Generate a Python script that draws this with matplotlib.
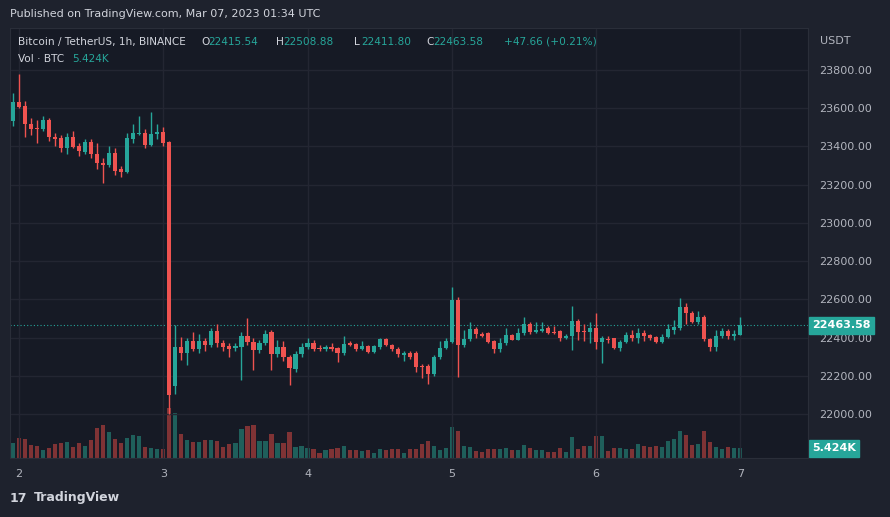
import matplotlib.pyplot as plt
import numpy as np

# Bitcoin / TetherUS 1h candles, Mar 2 - Mar 7 2023
opens = [23533, 23633, 23612, 23518, 23496, 23490, 23538, 23450, 23444, 23392, 23450, 23402, 23370, 23423, 23360, 23313,
         23303, 23365, 23282, 23266, 23440, 23465, 23470, 23408, 23465, 23475, 23423,
         22146, 22350, 22319, 22382, 22340, 22382, 22361, 22434, 22371, 22355, 22345, 22350, 22408, 22377, 22335, 22370,
         22429, 22314, 22350, 22300, 22235, 22314, 22350, 22370, 22345, 22338, 22350, 22345, 22320, 22370, 22365, 22340,
         22355, 22325, 22350, 22392, 22360, 22340, 22310, 22320, 22320, 22250, 22250, 22210, 22300, 22345,
         22377, 22596, 22361, 22392, 22445, 22420, 22424, 22382, 22340, 22370, 22413, 22390, 22424, 22471, 22430, 22435,
         22450, 22430, 22435, 22400, 22408, 22487, 22435, 22429, 22450, 22377, 22395, 22398, 22346, 22375, 22413, 22398,
         22424, 22413, 22405, 22375, 22405, 22440, 22450, 22560, 22528, 22481, 22508, 22392, 22350, 22410, 22435, 22410,
         22415.54]
closes = [23633, 23607, 23518, 23490, 23490, 23538, 23450, 23440, 23392, 23450, 23397, 23376, 23423, 23360, 23313, 23303,
          23365, 23271, 23266, 23444, 23470, 23470, 23408, 23465, 23475, 23418, 22100,
          22350, 22319, 22382, 22340, 22382, 22361, 22434, 22371, 22350, 22340, 22355, 22408, 22377, 22335, 22370, 22418,
          22314, 22350, 22300, 22240, 22314, 22350, 22370, 22340, 22340, 22350, 22340, 22320, 22365, 22362, 22340, 22355,
          22325, 22355, 22392, 22360, 22340, 22313, 22320, 22300, 22245, 22245, 22210, 22300, 22345, 22380,
          22596, 22361, 22392, 22445, 22419, 22410, 22377, 22340, 22370, 22413, 22390, 22424, 22471, 22430, 22440, 22445,
          22424, 22425, 22400, 22410, 22487, 22429, 22429, 22450, 22377, 22400, 22388, 22346, 22375, 22413, 22398, 22424,
          22408, 22400, 22375, 22405, 22445, 22455, 22560, 22528, 22481, 22508, 22392, 22350, 22410, 22435, 22410, 22420,
          22463.58]
highs = [23680, 23780, 23640, 23550, 23540, 23560, 23550, 23470, 23460, 23470, 23480, 23420, 23440, 23440, 23420, 23340,
         23400, 23390, 23300, 23470, 23520, 23560, 23490, 23580, 23520, 23500, 23430,
         22466, 22403, 22400, 22430, 22420, 22400, 22450, 22470, 22390, 22370, 22370, 22430, 22502, 22400, 22390, 22440,
         22440, 22390, 22380, 22310, 22330, 22370, 22400, 22390, 22360, 22360, 22370, 22350, 22410, 22380, 22370, 22380,
         22360, 22360, 22400, 22400, 22365, 22350, 22330, 22330, 22330, 22260, 22260, 22310, 22380, 22400,
         22664, 22610, 22440, 22480, 22455, 22430, 22430, 22390, 22400, 22450, 22420, 22450, 22510, 22480, 22480, 22480,
         22460, 22460, 22440, 22420, 22565, 22495, 22470, 22480, 22530, 22410, 22410, 22400, 22390, 22430, 22440, 22450,
         22440, 22420, 22410, 22420, 22470, 22490, 22607, 22580, 22540, 22540, 22520, 22400, 22440, 22450, 22445, 22440,
         22508.88]
lows = [23507, 23600, 23450, 23460, 23420, 23480, 23430, 23400, 23370, 23360, 23390, 23350, 23360, 23340, 23280, 23210,
        23290, 23250, 23240, 23260, 23420, 23460, 23390, 23400, 23440, 23400, 22000,
        22104, 22282, 22256, 22330, 22320, 22330, 22350, 22350, 22330, 22300, 22330, 22178, 22360, 22230, 22320, 22360,
        22230, 22300, 22280, 22152, 22220, 22300, 22340, 22330, 22330, 22330, 22330, 22270, 22310, 22355, 22330, 22335,
        22320, 22320, 22340, 22355, 22330, 22300, 22280, 22290, 22220, 22190, 22160, 22200, 22290, 22340,
        22370, 22193, 22350, 22380, 22400, 22405, 22370, 22320, 22325, 22360, 22385, 22385, 22415, 22420, 22425, 22430,
        22420, 22420, 22380, 22395, 22335, 22390, 22380, 22370, 22340, 22267, 22370, 22340, 22330, 22370, 22380, 22370,
        22380, 22390, 22370, 22370, 22400, 22420, 22440, 22470, 22475, 22470, 22380, 22330, 22330, 22400, 22395, 22385,
        22411.80]
volumes_k = [8.5, 11.4, 10.7, 7.3, 6.8, 4.3, 5.6, 7.7, 8.2, 8.8, 6.3, 8.5, 6.8, 10.2, 16.5, 18.4, 14.5, 10.7, 8.5,
             11.4, 13.1, 12.1, 6.3, 5.6, 4.8, 4.8, 28.1, 25.2,
             13.6, 9.9, 8.8, 8.8, 9.9, 10.2, 9.7, 6.0, 7.7, 8.2, 16.2, 17.9, 18.7, 9.4, 9.7, 13.3, 8.2, 8.2, 14.5, 6.3,
             6.8, 5.4, 4.8, 2.9, 4.3, 4.8, 5.6, 6.5, 4.6, 4.3, 3.7, 4.3, 3.1, 4.8, 4.6, 5.1, 5.1, 3.1, 4.8, 5.1, 7.7,
             9.4, 6.8, 4.3, 5.6,
             17.5, 15.0, 6.8, 6.3, 3.7, 3.4, 4.8, 4.8, 5.1, 5.4, 4.3, 4.3, 7.3, 5.4, 4.6, 4.6, 3.4, 3.4, 5.4, 3.4,
             11.6, 5.1, 6.8, 6.5, 12.4, 12.4, 3.7, 5.4, 5.4, 5.1, 5.1, 8.0, 6.5, 6.3, 6.8, 6.0, 9.4, 10.5, 15.0, 12.8,
             7.3, 7.7, 15.0, 9.0, 6.0, 5.1, 6.0, 5.4, 5.424]
day_labels = ['2', '3', '4', '5', '6', '7']
price_ticks = [22000, 22200, 22400, 22600, 22800, 23000, 23200, 23400, 23600, 23800]
last_price = 22463.58

UP, DOWN = '#26a69a', '#ef5350'
UP_VOL, DOWN_VOL = '#1f5f5b', '#7f3335'
BG, PANEL, GRID, TXT = '#1e222d', '#161a25', '#232632', '#b2b5be'

fig = plt.figure(figsize=(8.9, 5.17), dpi=100)
fig.patch.set_facecolor(BG)
ax = fig.add_axes([0.0112, 0.114, 0.897, 0.832])
ax.set_facecolor(PANEL)

n = len(closes)
hours = np.arange(n) - 1  # first candle at Mar 1 23:00
for i in range(n):
    o, c, h, l = opens[i], closes[i], highs[i], lows[i]
    col = UP if c >= o else DOWN
    ax.vlines(hours[i], l, h, color=col, lw=1, zorder=3)
    ax.bar(hours[i], max(abs(c - o), 3), bottom=min(o, c), width=0.7, color=col, zorder=4, linewidth=0)

ax.set_xlim(-1.5, 131.3)
ax.set_ylim(21770, 24020)
ax.set_xticks([24 * k for k in range(len(day_labels))])
ax.set_xticklabels(day_labels)
ax.grid(color=GRID, lw=1, zorder=0)
for s in ax.spines.values():
    s.set_color('#2a2e39')

# volume overlay
vax = ax.twinx()
vax.set_ylim(0, 240)
vax.set_yticks([])
for s in vax.spines.values():
    s.set_visible(False)
for i in range(n):
    col = UP_VOL if closes[i] >= opens[i] else DOWN_VOL
    vax.bar(hours[i], volumes_k[i], width=0.7, color=col, linewidth=0, zorder=2)
vax.set_xlim(-1.5, 131.3)
ax.set_zorder(vax.get_zorder() + 1)
ax.patch.set_visible(False)
vax.patch.set_visible(True)
vax.patch.set_facecolor(PANEL)

ax.yaxis.tick_right()
ax.set_yticks(price_ticks)
ax.set_yticklabels([f'{p:.2f}' for p in price_ticks])
ax.tick_params(colors=TXT, labelsize=8, length=0, pad=8)

ax.axhline(last_price, color=UP, lw=0.8, ls=(0, (1, 2)), zorder=2)
ax.text(1.005, last_price, f'{last_price:.2f}', transform=ax.get_yaxis_transform(), va='center', ha='left',
        color='white', fontsize=8, fontweight='bold', bbox=dict(boxstyle='square,pad=0.3', fc=UP, ec=UP))
vax.text(1.005, volumes_k[-1], '5.424K', transform=vax.get_yaxis_transform(), va='center', ha='left',
         color='white', fontsize=8, fontweight='bold', bbox=dict(boxstyle='square,pad=0.3', fc=UP, ec=UP))

# header texts
fig.text(10 / 890, 1 - 14 / 517, 'Published on TradingView.com, Mar 07, 2023 01:34 UTC', color='#d1d4dc',
         fontsize=8, va='center')
fig.text(820 / 890, 1 - 41 / 517, 'USDT', color=TXT, fontsize=8, va='center')
y1 = 1 - 42 / 517
fig.text(18 / 890, y1, 'Bitcoin / TetherUS, 1h, BINANCE', color='#d1d4dc', fontsize=7.6, va='center')
for x, lab, val in [(201, 'O', '22415.54'), (276, 'H', '22508.88'), (354, 'L', '22411.80'), (426, 'C', '22463.58')]:
    fig.text(x / 890, y1, lab, color='#d1d4dc', fontsize=7.6, va='center')
    fig.text((x + 7) / 890, y1, val, color=UP, fontsize=7.6, va='center')
fig.text(504 / 890, y1, '+47.66 (+0.21%)', color=UP, fontsize=7.6, va='center')
y2 = 1 - 59 / 517
fig.text(18 / 890, y2, 'Vol · BTC', color='#d1d4dc', fontsize=7.6, va='center')
fig.text(72 / 890, y2, '5.424K', color=UP, fontsize=7.6, va='center')
fig.text(34 / 890, 1 - 498 / 517, 'TradingView', color='#d1d4dc', fontsize=9, fontweight='bold', va='center')
fig.text(10 / 890, 1 - 498 / 517, '17', color='#d1d4dc', fontsize=9, fontweight='bold', va='center')

fig.savefig('out.png', dpi=100, facecolor=BG)
